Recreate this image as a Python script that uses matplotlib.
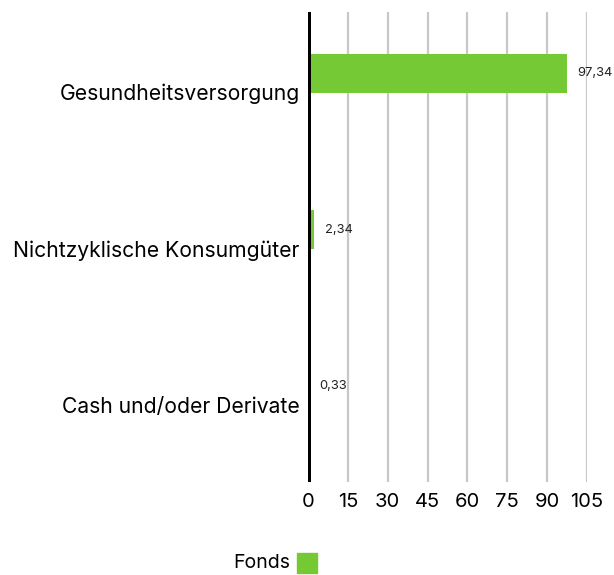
import matplotlib

matplotlib.use("Agg")
import matplotlib.pyplot as plt

plt.rcParams["font.family"] = ["Inter", "DejaVu Sans"]

# sector weights of the fund, in percent
SECTORS = ["Gesundheitsversorgung", "Nichtzyklische Konsumgüter", "Cash und/oder Derivate"]
WEIGHTS = [97.34, 2.34, 0.33]
SERIES = "Fonds"
GREEN = "#74c935"
XTICKS = [0, 15, 30, 45, 60, 75, 90, 105]

fig = plt.figure(figsize=(6.14, 5.75), dpi=100)
ax = fig.add_axes([0.5016, 0.162, 0.4544, 0.817])

ypos = [i - 0.11 for i in range(len(SECTORS))]
ax.barh(ypos, WEIGHTS, height=0.25, color=GREEN, zorder=3)
for y, w in zip(ypos, WEIGHTS):
    ax.text(w + 4, y, f"{w:.2f}".replace(".", ","), va="center", ha="left",
            fontsize=9.3, color="#222222", zorder=4)

ax.set_xlim(0, 105)
ax.set_ylim(len(SECTORS) - 0.5, -0.5)
ax.set_xticks(XTICKS)
ax.set_xticklabels([str(t) for t in XTICKS], fontsize=14.5)
ax.set_yticks([i + 0.01 for i in range(len(SECTORS))])
ax.set_yticklabels(SECTORS, fontsize=15.2)
ax.tick_params(length=0, pad=6)
ax.tick_params(axis="x", pad=8)

for t in XTICKS[1:]:
    ax.axvline(t, color="#c8c8c8", lw=1.6, zorder=1)
ax.axvline(0, color="black", lw=3.6, zorder=5)
for s in ax.spines.values():
    s.set_visible(False)

# legend: label with a square swatch to its right
fig.text(0.473, 0.021, SERIES, ha="right", va="center", fontsize=14)
fig.patches.append(plt.Rectangle((0.484, 0.003), 0.032, 0.035, color=GREEN,
                                 transform=fig.transFigure, figure=fig))

fig.savefig("out.png", dpi=100)
